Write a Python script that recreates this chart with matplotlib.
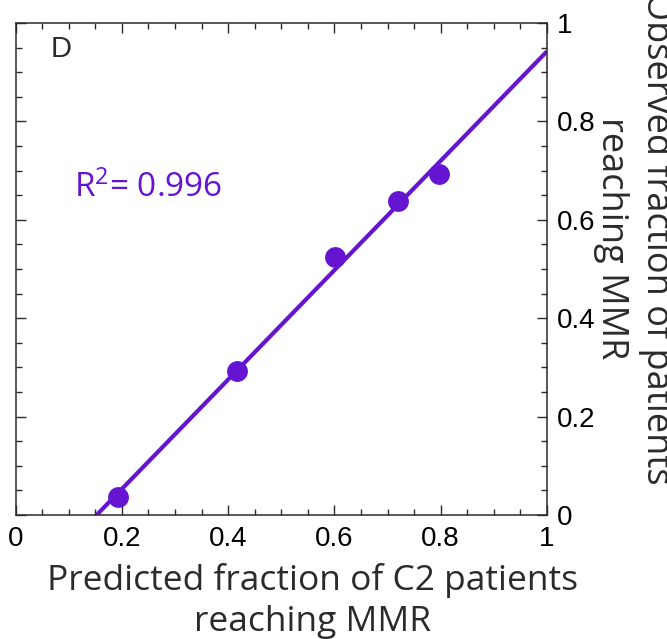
import numpy as np
import matplotlib
matplotlib.use("Agg")
import matplotlib.pyplot as plt
from matplotlib.ticker import MultipleLocator

# predicted vs observed fraction of C2 patients reaching MMR
predicted = [0.192, 0.417, 0.602, 0.719, 0.797]
observed = [0.036, 0.293, 0.524, 0.639, 0.693]
r_squared = 0.996
tick_values = [0, 0.2, 0.4, 0.6, 0.8, 1]
tick_labels = ["0", "0.2", "0.4", "0.6", "0.8", "1"]

PURPLE = "#6514D2"
INK = "#2b2b2b"
LABEL_FONT = "Open Sans"
TICK_FONT = "Liberation Sans"

plt.rcParams["mathtext.fontset"] = "custom"
plt.rcParams["mathtext.rm"] = LABEL_FONT
plt.rcParams["mathtext.it"] = LABEL_FONT

fig = plt.figure(figsize=(6.67, 6.39), dpi=100)
ax = fig.add_axes([0.0235, 0.194, 0.7965, 0.770])

slope, intercept = np.polyfit(predicted, observed, 1)
xs = np.linspace(0, 1, 200)
ax.plot(xs, slope * xs + intercept, color=PURPLE, lw=3.0, solid_capstyle="butt")
ax.plot(predicted, observed, "o", color=PURPLE, ms=15, mec="none")

ax.set_xlim(0, 1)
ax.set_ylim(0, 1)
ax.set_xticks(tick_values, tick_labels, family=TICK_FONT)
ax.set_yticks(tick_values, tick_labels, family=TICK_FONT)
ax.xaxis.set_minor_locator(MultipleLocator(0.05))
ax.yaxis.set_minor_locator(MultipleLocator(0.05))
ax.tick_params(which="both", direction="in", top=True, right=True,
               left=True, bottom=True, labelleft=False, labelright=True,
               color=INK, width=1.0, labelsize=20, labelcolor="black")
ax.tick_params(which="major", length=7)
ax.tick_params(which="minor", length=4)
ax.tick_params(axis="x", which="major", pad=8)
ax.tick_params(axis="y", which="major", pad=7)
for sp in ax.spines.values():
    sp.set_color(INK)
    sp.set_linewidth(1.1)

ax.text(0.066, 0.947, "D", transform=ax.transAxes, fontsize=21,
        family=TICK_FONT, color=INK, ha="left", va="center")
ax.text(0.11, 0.665, rf"R$^{{2}}$= {r_squared:.3f}", transform=ax.transAxes,
        fontsize=24, family=LABEL_FONT, color=PURPLE, ha="left", va="center")

fig.text(313 / 667, 1 - 601 / 639,
         "Predicted fraction of C2 patients\nreaching MMR",
         ha="center", va="center", fontsize=25.5, family=LABEL_FONT,
         color=INK, linespacing=1.25)
fig.text(634 / 667, 1 - 238 / 639,
         "Observed fraction of patients\nreaching MMR",
         ha="center", va="center", rotation=270, fontsize=26,
         family=LABEL_FONT, color=INK, linespacing=1.35)

fig.savefig("out.png", dpi=100, facecolor="white")
